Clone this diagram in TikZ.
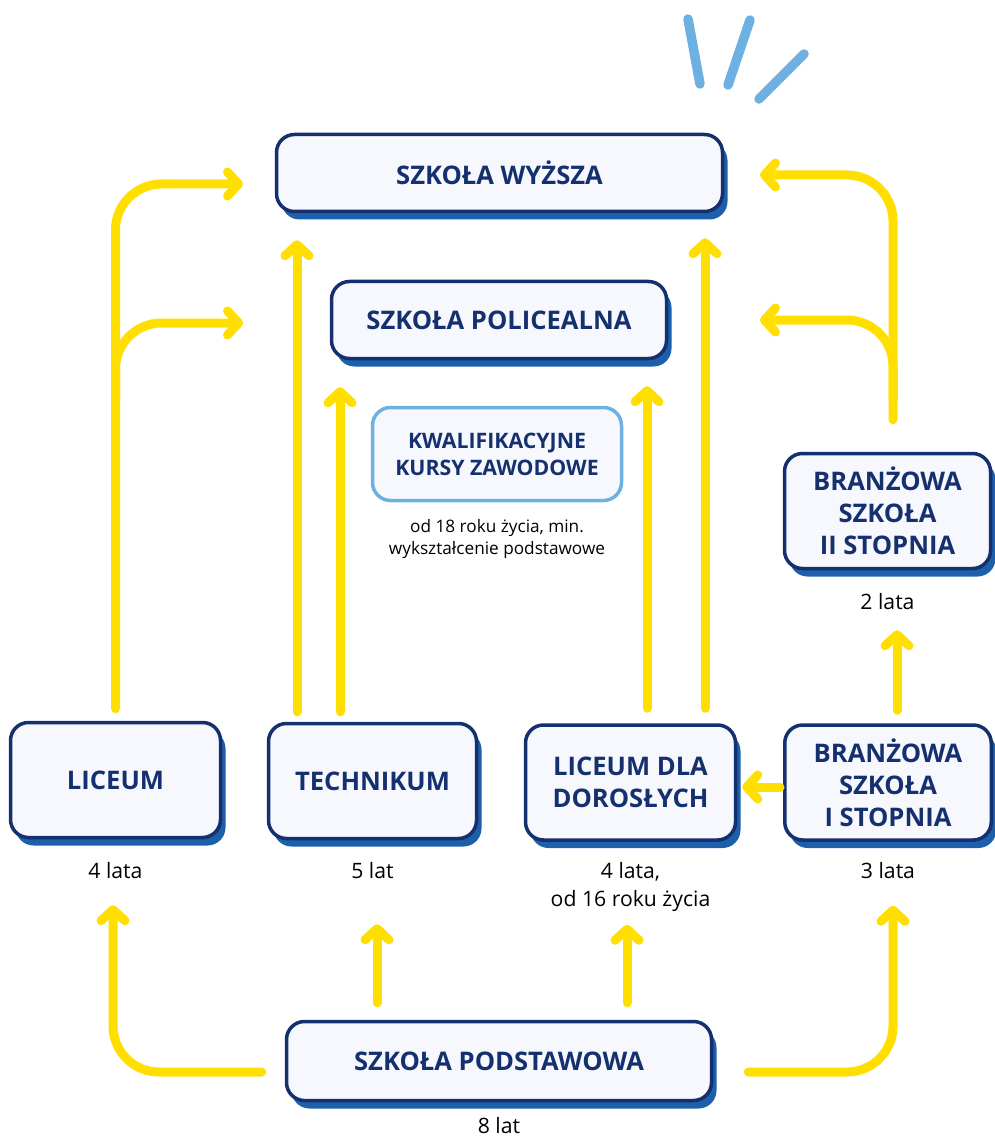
\documentclass[tikz,border=0pt]{standalone}
\usepackage{fontspec}
\setmainfont{Open Sans}
\usetikzlibrary{arrows.meta,positioning,shadows,calc}
\definecolor{navy}{HTML}{15306E}
\definecolor{boxfill}{HTML}{F7F8FE}
\definecolor{boxshade}{HTML}{1C5FAB}
\definecolor{flowyellow}{HTML}{FFDF00}
\definecolor{skyblue}{HTML}{6DB0E2}
\tikzset{
  school/.style={draw=navy,line width=3.5pt,fill=boxfill,rounded corners=18pt,text=navy,
    font=\bfseries\fontsize{25.6}{32}\selectfont,align=center,
    general shadow={fill=boxshade,shadow xshift=5pt,shadow yshift=-8pt}},
  course/.style={draw=skyblue,line width=3.5pt,fill=boxfill,rounded corners=18pt,text=navy,
    font=\bfseries\fontsize{21.3}{27}\selectfont,align=center},
  years/.style={font=\fontsize{21.2}{28}\selectfont,align=center,inner sep=0pt},
  flow/.style={draw=flowyellow,line width=9pt,line cap=round,line join=round,
    -{Straight Barb[round,length=11pt,width=24pt]}},
  spark/.style={draw=skyblue,line width=9.5pt,line cap=round},
}
\begin{document}
\begin{tikzpicture}[x=1pt,y=-1pt]
    \useasboundingbox (0,0) rectangle (994,1139);
	\node[school,minimum width=446pt,minimum height=77pt] (wyzsza) at (499.5,173) {SZKOŁA WYŻSZA};
	\node[school,minimum width=335pt,minimum height=77pt] (policealna) at (499,320) {SZKOŁA POLICEALNA};
	\node[course,minimum width=249pt,minimum height=93pt] (kursy) at (497,454) {KWALIFIKACYJNE\\KURSY ZAWODOWE};
	\node[years,font=\fontsize{17.2}{22}\selectfont,below=17pt of kursy] (kursynote) {od 18 roku życia, min.\\wykształcenie podstawowe};
	\node[school,minimum width=206pt,minimum height=115pt] (branza2) at (887.5,511) {BRANŻOWA\\SZKOŁA\\II STOPNIA};
	\node[years,below=23pt of branza2] (branza2years) {2 lata};
	\node[school,minimum width=210pt,minimum height=115pt] (liceum) at (115.5,780) {LICEUM};
	\node[school,minimum width=208pt,minimum height=115pt] (technikum) at (372.5,781) {TECHNIKUM};
	\node[school,minimum width=210pt,minimum height=115pt] (dorosli) at (630.5,782.5) {LICEUM DLA\\DOROSŁYCH};
	\node[school,minimum width=206.5pt,minimum height=115pt] (branza1) at (888,782.5) {BRANŻOWA\\SZKOŁA\\I STOPNIA};
	\node[years,below=23pt of liceum] (liceumyears) {4 lata};
	\node[years,below=22pt of technikum] (technikumyears) {5 lat};
	\node[years,below=20pt of dorosli] (dorosliyears) {4 lata,\\od 16 roku życia};
	\node[years,below=20pt of branza1] (branza1years) {3 lata};
	\node[school,minimum width=425pt,minimum height=79pt] (podstawowa) at (499,1061) {SZKOŁA PODSTAWOWA};
	\node[years,below=15pt of podstawowa] (podstawowayears) {8 lat};
	\coordinate (lgate) at (243,0);
	\coordinate (rgate) at (760,0);
	\draw[flow,rounded corners=46pt] ([yshift=12pt]liceum.north) |- ($(wyzsza.west -| lgate)+(0,11)$);
	\draw[flow,rounded corners=46pt] ($(liceum.north)+(0,-320)$) |- ($(policealna.west -| lgate)+(0,3)$);
	\coordinate (t1) at ($(technikum.north)+(-75.5,-10)$);
	\coordinate (t2) at ($(technikum.north)+(-32.5,-10)$);
	\draw[flow] (t1) -- ($(t1 |- wyzsza.south)+(0,27)$);
	\draw[flow] (t2) -- ($(t2 |- policealna.south)+(0,27)$);
	\coordinate (d1) at ($(dorosli.north)+(16.5,-15)$);
	\coordinate (d2) at ($(dorosli.north)+(74.5,-15)$);
	\draw[flow] (d1) -- ($(d1 |- policealna.south)+(0,26)$);
	\draw[flow] (d2) -- ($(d2 |- wyzsza.south)+(0,25)$);
	\draw[flow] ($(branza1.west)+(-3,4.5)$) -- ($(dorosli.east)+(5,4.5)$);
	\coordinate (b1) at ($(branza1.north)+(9,-13)$);
	\draw[flow] (b1) -- ($(b1 |- branza2.south)+(0,60)$);
	\draw[flow,rounded corners=46pt] ($(branza2.north)+(5.5,-32)$) |- ($(wyzsza.east -| rgate)+(0,2)$);
	\draw[flow,rounded corners=46pt] ($(branza2.north)+(5.5,-52)$) |- (policealna.east -| rgate);
	\draw[flow,rounded corners=46pt] ([xshift=-23pt,yshift=-11pt]podstawowa.west) -| ($(liceum.south)+(-2.5,66)$);
	\draw[flow,rounded corners=46pt] ([xshift=35pt,yshift=-11pt]podstawowa.east) -| ($(branza1.south)+(5,64)$);
	\coordinate (p1) at ($(podstawowa.north)+(-122,-17)$);
	\coordinate (p2) at ($(podstawowa.north)+(128,-17)$);
	\draw[flow] (p1) -- ($(p1 |- technikum.south)+(0,84)$);
	\draw[flow] (p2) -- ($(p2 |- dorosli.south)+(0,83)$);
	\draw[spark] (688,19) -- (700,84);
	\draw[spark] (750,20) -- (728,85);
	\draw[spark] (804,54) -- (759,99);
\end{tikzpicture}
\end{document}
